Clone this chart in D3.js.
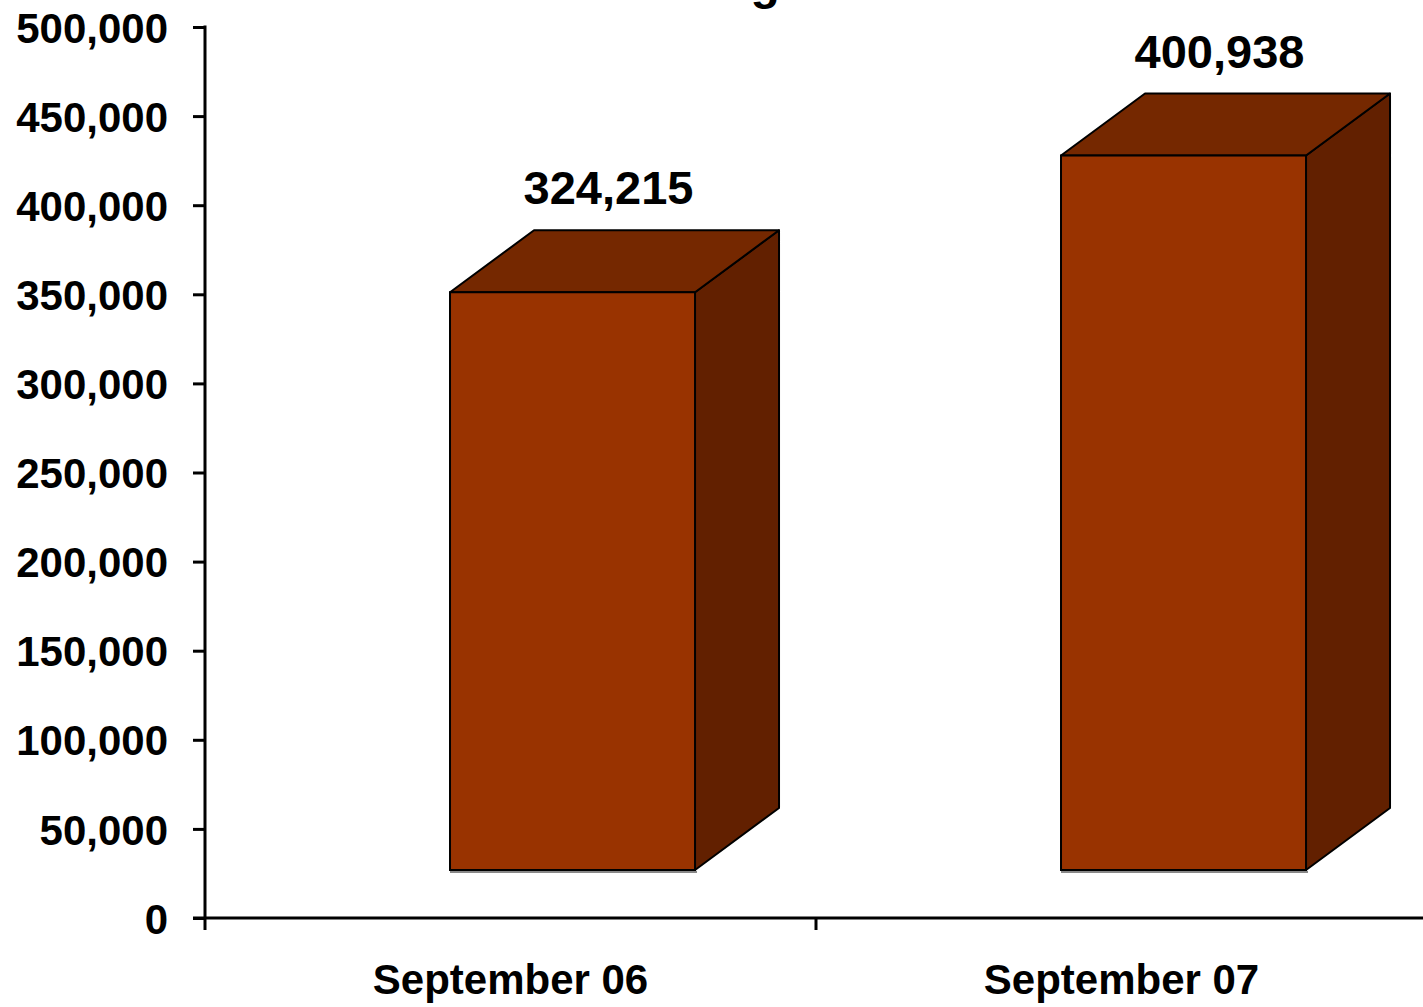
<!DOCTYPE html>
<html><head><meta charset="utf-8">
<script src="https://cdn.jsdelivr.net/npm/d3@7"></script>
<style>html,body{margin:0;padding:0;background:#fff;overflow:hidden}</style>
</head><body>
<svg id="chart" width="1423" height="1007"></svg>
<script>
const title = "Average Sale Price";
const categories = ["September 06", "September 07"];
const values = [324215, 400938];
const yTicks = [0, 50000, 100000, 150000, 200000, 250000, 300000, 350000, 400000, 450000, 500000];

const svg = d3.select("#chart");
const font = "'Liberation Sans', Arial, sans-serif";
const y = d3.scaleLinear().domain([0, 500000]).range([918, 27]);
const x = d3.scaleBand().domain(categories).range([205, 1427]).padding(0);
const fmt = d3.format(",");
const depthX = 84, depthY = -62, floor = 48;
const colFront = "#993300", colTop = "#752800", colSide = "#622000";

// title (cut off at top in original)
svg.append("text").attr("x", 834).attr("y", -1).attr("text-anchor", "middle")
  .attr("font-family", font).attr("font-weight", "bold").attr("font-size", 48)
  .text(title);

// bars
const bw = x.bandwidth();
const g = svg.append("g");
categories.forEach((c, i) => {
  const v = values[i];
  const x0 = x(c) + bw * 0.401, x1 = x0 + bw * 0.401;
  const yb = y(0) - floor, yt = y(v) - floor;
  g.append("line").attr("x1", x0).attr("x2", x1 + 2).attr("y1", yb + 2).attr("y2", yb + 2)
    .attr("stroke", "#888").attr("stroke-width", 2);
  g.append("path").attr("d", `M${x1},${yt}L${x1 + depthX},${yt + depthY}L${x1 + depthX},${yb + depthY}L${x1},${yb}Z`)
    .attr("fill", colSide).attr("stroke", "#000").attr("stroke-width", 2).attr("stroke-linejoin", "round");
  g.append("path").attr("d", `M${x0},${yt}L${x0 + depthX},${yt + depthY}L${x1 + depthX},${yt + depthY}L${x1},${yt}Z`)
    .attr("fill", colTop).attr("stroke", "#000").attr("stroke-width", 2).attr("stroke-linejoin", "round");
  g.append("rect").attr("x", x0).attr("y", yt).attr("width", x1 - x0).attr("height", yb - yt)
    .attr("fill", colFront).attr("stroke", "#000").attr("stroke-width", 2);
  g.append("text").attr("x", (x0 + x1) / 2 + 36).attr("y", yt + depthY - 26)
    .attr("text-anchor", "middle").attr("font-family", font).attr("font-weight", "bold")
    .attr("font-size", 47).text(fmt(v));
});

// y axis
const yAxis = d3.axisLeft(y).tickValues(yTicks).tickFormat(fmt).tickSize(12).tickPadding(25);
const ya = svg.append("g").attr("transform", "translate(205,0)").call(yAxis);
ya.select(".domain").attr("stroke", "#000").attr("stroke-width", 3).attr("d", "M0,25.5V918");
ya.selectAll(".tick line").attr("stroke", "#000").attr("stroke-width", 3);
ya.selectAll(".tick text").attr("font-family", font).attr("font-weight", "bold")
  .attr("font-size", 42).attr("fill", "#000").attr("dy", "0.36em");

// x axis
const xa = svg.append("g").attr("transform", "translate(0,918)");
xa.append("line").attr("x1", 193).attr("x2", 1423).attr("y1", 0).attr("y2", 0)
  .attr("stroke", "#000").attr("stroke-width", 3);
const boundaries = [205, 205 + bw, 205 + 2 * bw];
xa.selectAll("line.tk").data(boundaries).enter().append("line").attr("class", "tk")
  .attr("x1", d => d).attr("x2", d => d).attr("y1", 0).attr("y2", 12)
  .attr("stroke", "#000").attr("stroke-width", 3);
xa.selectAll("text.cat").data(categories).enter().append("text").attr("class", "cat")
  .attr("x", d => x(d) + bw / 2).attr("y", 76).attr("text-anchor", "middle")
  .attr("font-family", font).attr("font-weight", "bold").attr("font-size", 42).text(d => d);
</script>
</body></html>
